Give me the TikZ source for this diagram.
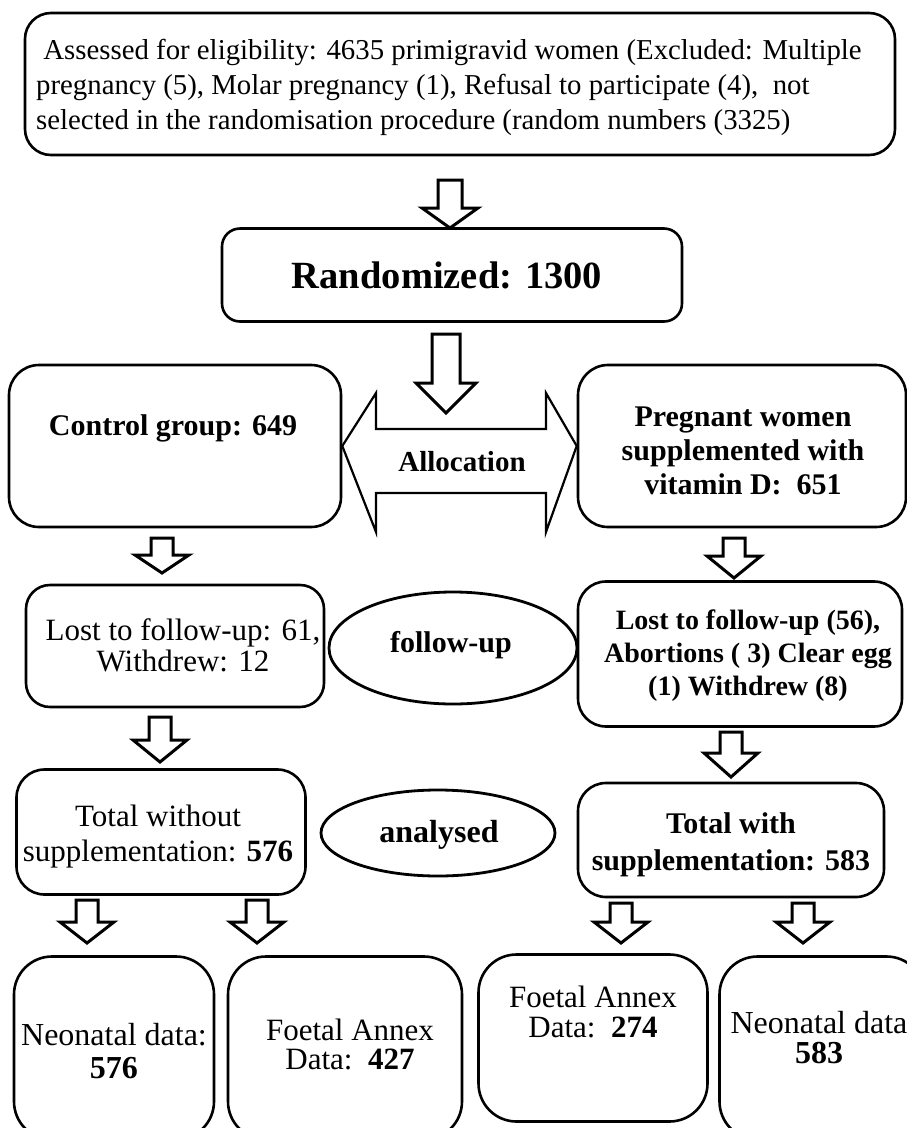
\documentclass[tikz,border=0pt]{standalone}
\usepackage{fontspec}
\setmainfont{Liberation Serif}
\usetikzlibrary{shapes.geometric}
\tikzset{
  box/.style={draw=black, line width=2.6pt, rounded corners=#1, inner sep=0pt, fill=white},
  box/.default=26pt,
  oval/.style={draw=black, line width=2.8pt, ellipse, inner sep=0pt},
  blk/.style={draw=black, line width=3pt, fill=white, line join=miter},
  txt/.style={inner sep=0pt, align=center},
}
% down block arrow: x, ytop, ybase(head), ytip, shaft half width, head half width
\newcommand\blkdown[6]{%
  \draw[blk] (#1-#5,#2) -- (#1+#5,#2) -- (#1+#5,#3) -- (#1+#6,#3) -- (#1,#4)
     -- (#1-#6,#3) -- (#1-#5,#3) -- cycle;}
\begin{document}
\begin{tikzpicture}[x=1pt,y=-1pt]
\useasboundingbox (0,0) rectangle (907,1128);
\clip (0,0) rectangle (907,1128);
\fill[white] (0,0) rectangle (907,1128);

% top box
\node[box=26pt, minimum width=870pt, minimum height=142pt] (assess) at (460,84) {};
\node[txt, align=left, anchor=west, font=\fontsize{28.8}{35}\selectfont] (assesst) at (36,87)
 {\ Assessed for eligibility: 4635 primigravid women (Excluded: Multiple\\
  pregnancy (5), Molar pregnancy (1), Refusal to participate (4),\ \ not\\
  selected in the randomisation procedure (random numbers (3325)};

% randomized
\node[box=18pt, minimum width=460pt, minimum height=93pt] (rand) at (452,275) {};
\node[txt, font=\bfseries\fontsize{38.5}{42}\selectfont] (randt) at (447,275) {Randomized: 1300};

% arrows 1 and 2
\blkdown{450}{180}{208}{228}{12}{28}
\blkdown{446}{334}{383}{413}{14}{30}

% control and supplemented
\node[box=30pt, minimum width=332pt, minimum height=162pt] (ctrl) at (175,446) {};
\node[txt, font=\bfseries\fontsize{30}{34}\selectfont] (ctrlt) at (173,428) {Control group: 649};
\node[box=30pt, minimum width=328pt, minimum height=162pt] (supp) at (742,446) {};
\node[txt, font=\bfseries\fontsize{30}{34}\selectfont] (suppt) at (743,451)
 {Pregnant women\\supplemented with\\vitamin D:\ \ 651};

% allocation double arrow
\draw[blk, line width=2.2pt] (ctrl.east) -- (376,393) -- (376,429) -- (546,429) -- (546,393)
  -- (supp.west) -- (546,532) -- (546,493) -- (376,493) -- (376,532) -- cycle;
\node[txt, font=\bfseries\fontsize{29}{32}\selectfont] (alloc) at (462,462) {Allocation};

\blkdown{162}{538}{555}{573}{11}{27}
\blkdown{734}{538}{556}{578}{11}{27}

% follow-up row
\node[box=24pt, minimum width=298pt, minimum height=122pt] (lostc) at (175,646) {};
\node[txt, font=\fontsize{31}{31}\selectfont] (lostct) at (183,645)
 {Lost to follow-up: 61,\\Withdrew: 12};
\node[oval, minimum width=248pt, minimum height=112pt] (fu) at (453,648) {};
\node[txt, font=\bfseries\fontsize{30}{34}\selectfont] (fut) at (451,645) {follow-up};
\node[box=28pt, minimum width=324pt, minimum height=145pt] (losts) at (740,654) {};
\node[txt, font=\bfseries\fontsize{28}{33}\selectfont] (lostst) at (748,656)
 {Lost to follow-up (56),\\Abortions ( 3) Clear egg\\(1) Withdrew (8)};

\blkdown{160}{717}{740}{762}{11}{27}
\blkdown{731}{732}{753}{777}{11}{27}

% totals row
\node[box=28pt, minimum width=289pt, minimum height=125pt] (totc) at (161,832) {};
\node[txt, font=\fontsize{31}{35}\selectfont] (totct) at (158,837)
 {Total without\\supplementation: \textbf{576}};
\node[oval, minimum width=234pt, minimum height=86pt] (an) at (438,833) {};
\node[txt, font=\bfseries\fontsize{32}{34}\selectfont] (ant) at (439,835) {analysed};
\node[box=28pt, minimum width=306pt, minimum height=114pt] (tots) at (731,840) {};
\node[txt, font=\bfseries\fontsize{30}{37}\selectfont] (totst) at (731,845)
 {Total with\\supplementation: 583};

\blkdown{87}{900}{922}{943}{11}{27}
\blkdown{257}{900}{922}{943}{11}{27}
\blkdown{621}{903}{922}{943}{11}{27}
\blkdown{803}{903}{922}{943}{11}{27}

% bottom boxes
\node[box=38pt, minimum width=200pt, minimum height=183pt] (neoc) at (114,1048) {};
\node[txt, font=\fontsize{32}{33}\selectfont] (neoct) at (114,1051)
 {Neonatal data:\\\textbf{576}};
\node[box=38pt, minimum width=234pt, minimum height=183pt] (fetc) at (345,1048) {};
\node[txt, font=\fontsize{31}{29}\selectfont] (fetct) at (350,1044)
 {Foetal Annex\\Data:\ \ \textbf{427}};
\node[box=38pt, minimum width=229pt, minimum height=167pt] (fets) at (593,1038) {};
\node[txt, font=\fontsize{31}{30}\selectfont] (fetst) at (593,1012)
 {Foetal Annex\\Data:\ \ \textbf{274}};
\node[box=38pt, minimum width=205pt, minimum height=183pt] (neos) at (822,1048) {};
\node[txt, font=\fontsize{32}{30}\selectfont] (neost) at (819,1038)
 {Neonatal data\\\textbf{583}};
\end{tikzpicture}
\end{document}
